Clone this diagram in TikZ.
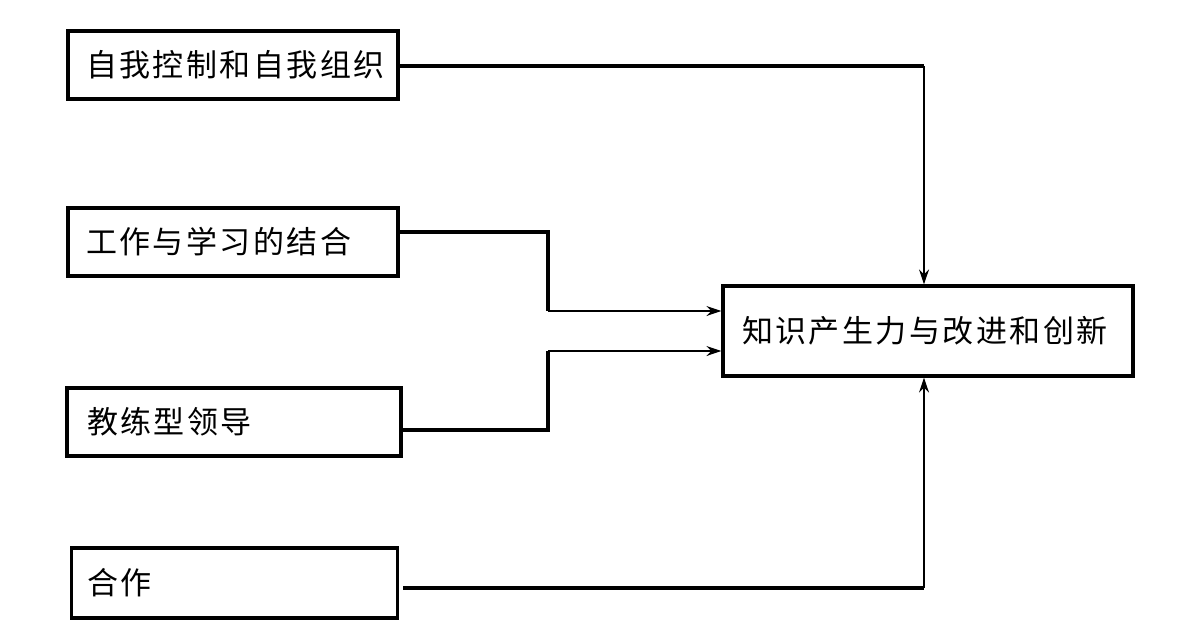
\documentclass[tikz,border=0pt]{standalone}
\usepackage{fontspec}
\newfontfamily\cjk[LetterSpace=8]{Noto Sans CJK SC}
\usetikzlibrary{arrows.meta}
\tikzset{
  srcbox/.style={draw, line width=3.2pt, minimum height=68pt, minimum width=330pt,
    text width=294pt, inner xsep=17pt, align=left, font=\cjk\fontsize{31pt}{36pt}\selectfont},
  tgtbox/.style={draw, line width=3.2pt, minimum height=90pt, minimum width=410pt,
    text width=372pt, inner xsep=18pt, align=left, font=\cjk\fontsize{31pt}{36pt}\selectfont},
  thickline/.style={line width=3.6pt},
  arr/.style={-{Stealth[length=15pt,width=10pt]}, line width=1.5pt}
}
\begin{document}
\begin{tikzpicture}[x=1pt,y=-1pt]
\useasboundingbox (0,0) rectangle (1185,640);
\node[srcbox] (a) at (233,65) {自我控制和自我组织};
\node[srcbox] (b) at (233,242) {工作与学习的结合};
\node[srcbox, inner xsep=20pt] (c) at (234,422) {教练型领导};
\node[srcbox, inner xsep=16pt, minimum width=323pt, minimum height=70pt] (d) at (234.5,583) {合作};
\node[tgtbox] (t) at (928,331) {知识产生力与改进和创新};
\coordinate (a1) at (924,66);
\coordinate (b1) at (548,232);
\coordinate (b2) at (548,311);
\coordinate (c1) at (548,430);
\coordinate (c2) at (548,351);
\coordinate (d1) at (924,588);
\draw[thickline] (a.east |- a1) -- (a1);
\draw[arr] (a1) -- (a1 |- t.north);
\draw[thickline] (b.east |- b1) -- (b1) -- (b2);
\draw[arr] (b2) -- (b2 -| t.west);
\draw[thickline] (c.east |- c1) -- (c1) -- (c2);
\draw[arr] (c2) -- (c2 -| t.west);
\draw[thickline] ([xshift=4pt]d.east |- d1) -- (d1);
\draw[arr] (d1) -- (d1 |- t.south);
\end{tikzpicture}
\end{document}
